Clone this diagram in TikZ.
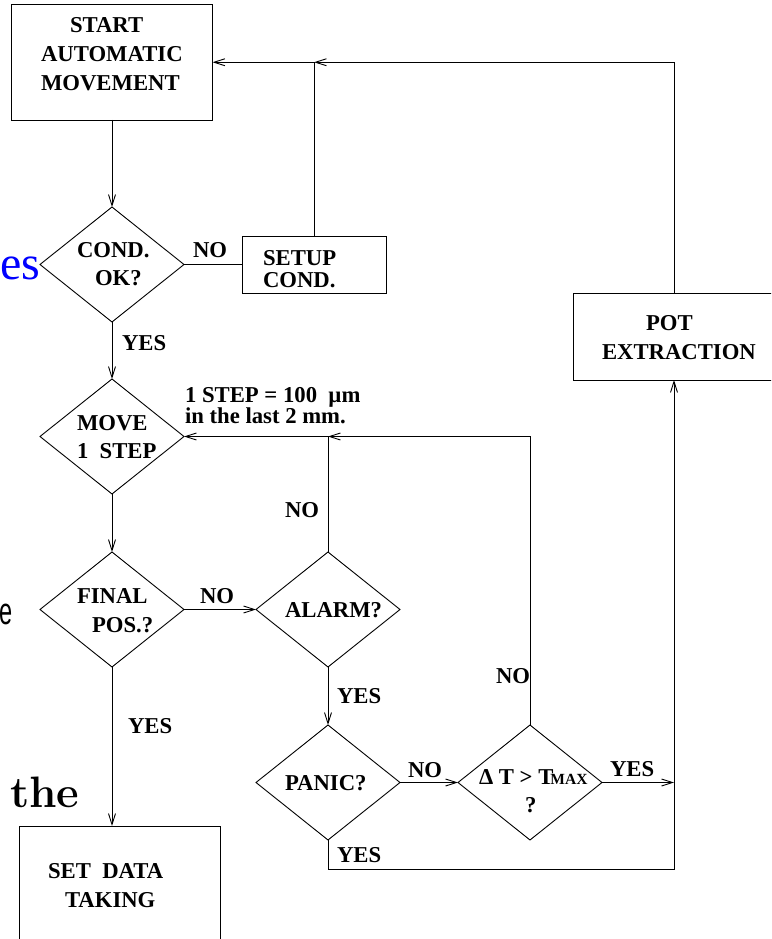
\documentclass[tikz,border=0pt]{standalone}
\usepackage{graphicx}
\usepackage{fontspec}
\newfontfamily\tmsfont{Liberation Serif}
\newfontfamily\helvfont{Liberation Sans}
\usetikzlibrary{shapes.geometric,arrows.meta}
\begin{document}
\begin{tikzpicture}[x=1pt,y=-1pt,
  every node/.style={inner sep=0pt, outer sep=0pt},
  line/.style={draw, line width=0.9pt},
  arr/.style={line, -{Straight Barb[length=11pt,width=7pt]}},
  box/.style={draw, line width=0.9pt, rectangle},
  dia/.style={draw, line width=0.9pt, diamond, minimum width=144pt, minimum height=115pt},
  lbl/.style={anchor=base west, font={\tmsfont\bfseries\fontsize{22.7}{27}\selectfont}},
]
\useasboundingbox (0,0) rectangle (771,939);
\clip (0,0) rectangle (771,939);

% process boxes
\node[box, minimum width=201pt, minimum height=115.5pt] (start) at (112,62.25) {};
\node[box, minimum width=144pt, minimum height=57pt] (setup) at (314,264.5) {};
\node[box, minimum width=202pt, minimum height=87pt] (pot) at (674,336.5) {};
\node[box, minimum width=201pt, minimum height=124pt] (set) at (119.5,888) {};

% decisions
\node[dia] (cond) at (112,264.5) {};
\node[dia] (move) at (112,436.5) {};
\node[dia] (final) at (112,609.5) {};
\node[dia] (alarm) at (328,609.5) {};
\node[dia] (panic) at (328,782.5) {};
\node[dia] (dT) at (530,782.5) {};

% box and decision texts
\node[lbl] (tStartA) at (70,33) {START};
\node[lbl] (tStartB) at (41,62) {AUTOMATIC};
\node[lbl] (tStartC) at (41,91) {MOVEMENT};
\node[lbl] (tCondA) at (77,257) {COND.};
\node[lbl] (tCondB) at (95,285) {OK?};
\node[lbl] (tSetupA) at (263,265) {SETUP};
\node[lbl] (tSetupB) at (263,287) {COND.};
\node[lbl] (tPotA) at (646,330) {POT};
\node[lbl] (tPotB) at (602,359) {EXTRACTION};
\node[lbl] (tMoveA) at (77,430) {MOVE};
\node[lbl] (tMoveB) at (77,458) {1\ \ STEP};
\node[lbl] (tFinalA) at (77,603) {FINAL};
\node[lbl] (tFinalB) at (92,632) {POS.?};
\node[lbl] (tAlarm) at (285,617) {ALARM?};
\node[lbl] (tPanic) at (285,790) {PANIC?};
\node[lbl] (tdTA) at (479,784) {Δ T > T\kern-3pt{\fontsize{15.5}{15.5}\selectfont MAX}};
\node[lbl] (tdTB) at (525,812) {?};
\node[lbl] (tSetA) at (48,878) {SET\ \ DATA};
\node[lbl] (tSetB) at (65,907) {TAKING};

% connectors
\coordinate (jtop) at (setup.north |- start.east);
\coordinate (jmid) at (alarm.north |- move.east);
\coordinate (jright) at (pot.south |- dT.east);
\coordinate (jbot) at (328,869);
\draw[arr] (start.south) -- (cond.north);
\draw[line] (cond.east) -- (setup.west);
\draw[arr] (setup.north) -- (jtop) -- (start.east);
\draw[arr] (pot.north) |- (jtop);
\draw[arr] (cond.south) -- (move.north);
\draw[arr] (move.south) -- (final.north);
\draw[arr] (final.east) -- (alarm.west);
\draw[arr] (alarm.north) -- (jmid) -- (move.east);
\draw[arr] (dT.north) |- (jmid);
\draw[arr] (final.south) -- (final.south |- set.north);
\draw[arr] (alarm.south) -- (panic.north);
\draw[arr] (panic.east) -- (dT.west);
\draw[arr] (dT.east) -- (jright);
\draw[arr] (panic.south) -- (jbot) -| (pot.south);

% connector labels
\node[lbl] (lNoA) at (193,257) {NO};
\node[lbl] (lYesA) at (122,350) {YES};
\node[lbl] (lStepA) at (185,402) {1 STEP = 100\ \ µm};
\node[lbl] (lStepB) at (185,423) {in the last 2 mm.};
\node[lbl] (lNoB) at (285,517) {NO};
\node[lbl] (lNoC) at (200,603) {NO};
\node[lbl] (lYesB) at (128,733) {YES};
\node[lbl] (lYesC) at (337,703) {YES};
\node[lbl] (lNoD) at (496,683) {NO};
\node[lbl] (lNoE) at (408,777) {NO};
\node[lbl] (lYesD) at (610,776) {YES};
\node[lbl] (lYesE) at (337,862) {YES};

% text fragments at the left edge
\node[anchor=base east, text=blue, font={\tmsfont\fontsize{48}{48}\selectfont}] (fragEs) at (40,279) {es};
\node[anchor=base west, font={\helvfont\fontsize{38}{38}\selectfont}] (fragE) at (0,624) {\scalebox{0.62}[1]{e}};
\node[anchor=base west, font={\rmfamily\bfseries\fontsize{44}{44}\selectfont}] (fragThe) at (10,807) {the};
\end{tikzpicture}
\end{document}
